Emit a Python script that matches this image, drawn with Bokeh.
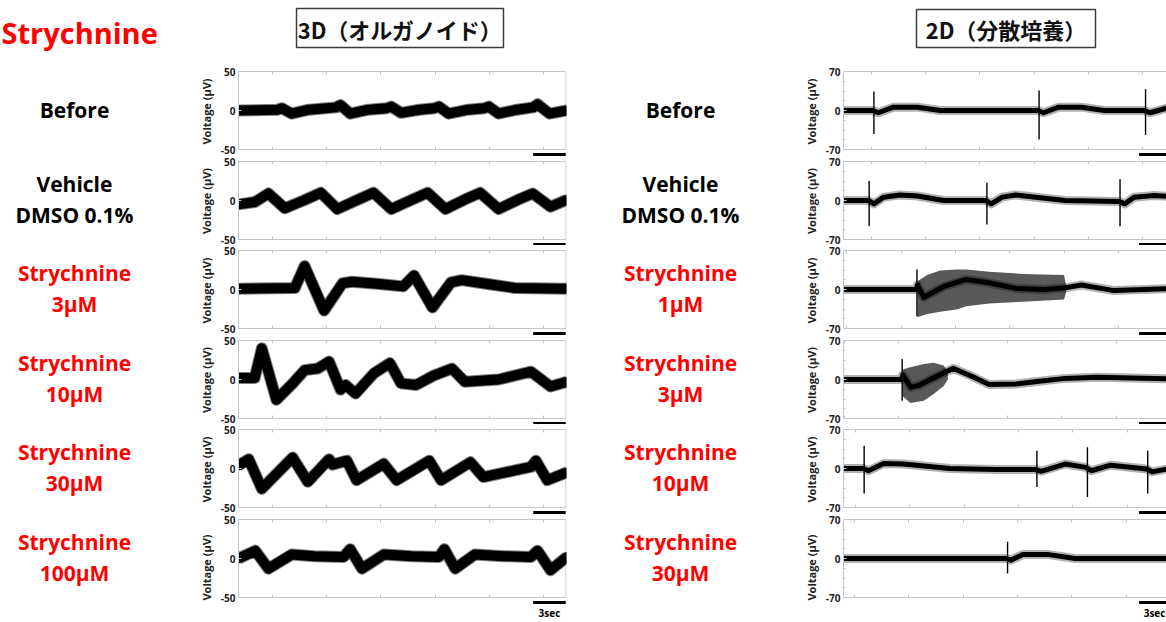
from bokeh.plotting import figure
from bokeh.layouts import column, row
from bokeh.models import Range1d, LinearAxis, FixedTicker
from bokeh.embed import file_html
from bokeh.resources import INLINE
from bokeh.core.properties import value

FONT = "Open Sans"
CJK = "Noto Sans CJK JP"
RED = "#ff0000"
BOX = "#c6c6c6"

# ---------------- data ----------------
title_text = "Strychnine"
header_3d = "3D（オルガノイド）"
header_2d = "2D（分散培養）"

labels_3d = [["Before"], ["Vehicle", "DMSO 0.1%"], ["Strychnine", "3µM"],
             ["Strychnine", "10µM"], ["Strychnine", "30µM"], ["Strychnine", "100µM"]]
labels_2d = [["Before"], ["Vehicle", "DMSO 0.1%"], ["Strychnine", "1µM"],
             ["Strychnine", "3µM"], ["Strychnine", "10µM"], ["Strychnine", "30µM"]]
label_is_red = [False, False, True, True, True, True]

ylim_3d = 50
ylim_2d = 70
y_axis_title = "Voltage (µV)"
scalebar_start = 27.2   # s
scalebar_len = 3.0      # s
scalebar_text = "3sec"
tick_step = 5.0
ticks_first_3d = [3.15, 3.15, 3.15, 3.15, 3.15, 3.15]
ticks_first_2d = [2.55, 2.55, 0.3, 0.1, 1.1, 1.0]
t_end = 30.3

# 3D traces (time s, voltage uV)
t3_before = [0, 3.6, 4.0, 4.9, 6.5, 9.0, 9.4, 10.3, 12.0, 13.7, 14.1, 15.0, 16.7, 18.1, 18.5,
             19.4, 21.2, 22.7, 23.1, 24.0, 25.7, 27.2, 27.6, 28.7, 30.3]
v3_before = [0, 1, 3, -4, 1, 4, 7, -4, 1, 3, 5, -3, 1, 3, 5, -4, 1, 3, 5, -4, 1, 4, 8, -4, 0]

t3_vehicle = [0, 1.5, 2.76, 4.27, 6.0, 7.6, 9.12, 11.0, 12.45, 14.1, 16.0, 17.45, 19.1, 21.0,
              22.3, 24.0, 25.8, 27.15, 28.8, 30.3]
v3_vehicle = [-5, -2, 9, -10, 0, 10, -11, 1, 10, -11, 1, 10, -11, 2, 10, -11, 1, 9, -8, 1]

t3_s3 = [0, 5.2, 6.1, 7.9, 9.6, 10.5, 13.0, 15.2, 16.2, 17.9, 19.6, 20.6, 23.0, 25.5, 30.3]
v3_s3 = [1, 2, 30, -27, 8, 10, 7, 4, 18, -23, 9, 12, 7, 2, 1]

t3_s10 = [0, 1.5, 2.15, 3.5, 5.0, 6.1, 7.3, 8.36, 9.42, 9.88, 10.8, 12.5, 13.97, 15.0, 16.4,
          18.0, 19.7, 20.9, 24.0, 27.0, 28.8, 30.3]
v3_s10 = [2, 2, 40, -26, -5, 12, 14, 23, -13, -7, -18, 8, 21, -5, -7, 5, 14, -3, 0, 10, -9, -3]

t3_s30 = [0, 0.94, 2.15, 5.0, 6.4, 8.36, 8.67, 10.0, 10.9, 13.4, 14.6, 17.6, 18.7, 21.4, 22.6,
          27.0, 27.45, 28.5, 30.3]
v3_s30 = [4, 12, -26, 14, -17, 12, 5, 10, -15, 6, -15, 10, -15, 8, -11, 2, 10, -15, -5]

t3_s100 = [0, 1.55, 2.76, 4.9, 7.0, 9.7, 10.3, 11.4, 13.4, 16.0, 18.5, 19.0, 20.0, 21.8, 24.5,
           27.0, 27.6, 28.8, 30.3]
v3_s100 = [0, 10, -13, 5, 3, 2, 12, -13, 5, 3, 2, 12, -13, 5, 3, 2, 10, -15, 2]

# 2D traces
t2_before = [0, 2.7, 3.2, 4.6, 6.8, 8.9, 17.9, 18.4, 19.8, 21.9, 24.0, 27.7, 28.2, 29.7, 30.3]
v2_before = [0, 0, -4, 6, 6, 0, 0, -4, 6, 6, 0, 0, -4, 4, 5]
spk2_before_t = [2.8, 18.0, 27.8]
spk2_before_hi = [34, 36, 38]
spk2_before_lo = [-42, -52, -44]

t2_vehicle = [0, 2.3, 2.8, 3.7, 5.2, 6.8, 9.2, 13.1, 13.6, 14.6, 15.85, 17.7, 20.4, 25.4, 25.9,
              26.75, 28.6, 30.3]
v2_vehicle = [0, 0, -6, 6, 10, 8, 0, 0, -6, 6, 10, 6, 0, -2, -6, 6, 9, 7]
spk2_vehicle_t = [2.36, 13.2, 25.45]
spk2_vehicle_hi = [35, 32, 38]
spk2_vehicle_lo = [-46, -43, -46]

t2_s1 = [0, 6.7, 6.8, 7.4, 9.2, 11.3, 13.4, 15.85, 18.5, 20.4, 21.9, 24.9, 30.3]
v2_s1 = [0, 0, 8, -14, 5, 18, 12, 2, 0, 3, 8, -2, 2]
spk2_s1_t = [6.76]
spk2_s1_hi = [36]
spk2_s1_lo = [-48]
burst2_s1_t = [6.8, 7.7, 8.9, 10.4, 11.3, 13.4, 16.5, 20.3, 20.5]
burst2_s1_hi = [15, 26, 34, 36, 36, 32, 28, 26, 6]
burst2_s1_lo = [-50, -44, -40, -36, -30, -25, -22, -18, -4]

t2_s3 = [0, 5.35, 5.45, 6.2, 7.0, 8.5, 10.1, 11.9, 13.4, 15.9, 18.0, 20.4, 23.4, 30.3]
v2_s3 = [0, 0, 8, -14, -10, 5, 20, 5, -9, -8, -3, 2, 4, 1]
spk2_s3_t = [5.4]
spk2_s3_hi = [37]
spk2_s3_lo = [-38]
burst2_s3_t = [5.45, 6.15, 7.4, 8.3, 9.2, 9.6]
burst2_s3_hi = [18, 22, 28, 30, 25, 15]
burst2_s3_lo = [-30, -42, -38, -26, -12, 0]

t2_s10 = [0, 1.85, 2.3, 3.7, 5.5, 9.8, 14, 17.7, 18.2, 20.4, 22.3, 22.8, 24.6, 27.9, 28.4, 30.3]
v2_s10 = [0, 0, -4, 9, 8, 0, -2, -2, -5, 8, 2, -4, 6, -1, -6, 1]
spk2_s10_t = [1.9, 17.8, 22.45, 28.0]
spk2_s10_hi = [41, 32, 38, 32]
spk2_s10_lo = [-45, -33, -51, -45]

t2_s30 = [0, 15.0, 15.4, 16.5, 18.9, 21.3, 30.3]
v2_s30 = [0, 0, -3, 7, 7, 0, 0]
spk2_s30_t = [15.1]
spk2_s30_hi = [30]
spk2_s30_lo = [-27]

traces_3d = [(t3_before, v3_before), (t3_vehicle, v3_vehicle), (t3_s3, v3_s3),
             (t3_s10, v3_s10), (t3_s30, v3_s30), (t3_s100, v3_s100)]
traces_2d = [(t2_before, v2_before), (t2_vehicle, v2_vehicle), (t2_s1, v2_s1),
             (t2_s3, v2_s3), (t2_s10, v2_s10), (t2_s30, v2_s30)]
spikes_2d = [(spk2_before_t, spk2_before_hi, spk2_before_lo),
             (spk2_vehicle_t, spk2_vehicle_hi, spk2_vehicle_lo),
             (spk2_s1_t, spk2_s1_hi, spk2_s1_lo),
             (spk2_s3_t, spk2_s3_hi, spk2_s3_lo),
             (spk2_s10_t, spk2_s10_hi, spk2_s10_lo),
             (spk2_s30_t, spk2_s30_hi, spk2_s30_lo)]
bursts_2d = [None, None, (burst2_s1_t, burst2_s1_hi, burst2_s1_lo),
             (burst2_s3_t, burst2_s3_hi, burst2_s3_lo), None, None]

# ---------------- layout ----------------
PAGE_W = 1166
HEADER_H = 66
ROW_H = [90, 89, 90, 89, 90, 106]
BOX_TOP = 5
BOX_H = 78
LEFT_W, P3_W, MID_W, P2_W = 195, 380, 225, 366
P3_BL, P3_BR = 38, 9
P2_BL, P2_BR = 39, 0
PX_PER_S = 11.0


def make_trace(t, v, ylim, h, w, bl, br, tick0, spikes=None, burst=None, last=False,
               core_w=10, halo_w=12, halo_alpha=0.45, box_clip=False, minor=None,
               sb_align="center"):
    frame_w = w - bl - br
    xmax = frame_w / PX_PER_S
    ppu = BOX_H / (2.0 * ylim)
    bottom_px = h - BOX_TOP - BOX_H
    y0 = -ylim - bottom_px / ppu
    y1 = ylim + BOX_TOP / ppu
    p = figure(width=w, height=h, x_range=Range1d(0, xmax), y_range=Range1d(y0, y1),
               output_backend="svg", toolbar_location=None, tools="",
               x_axis_location=None, y_axis_location="left",
               min_border_left=bl, min_border_right=br, min_border_top=0, min_border_bottom=0)
    p.outline_line_color = None
    p.grid.visible = False
    p.background_fill_color = "white"
    p.border_fill_color = "white"

    yax = p.yaxis[0]
    yax.ticker = FixedTicker(ticks=[-ylim, 0, ylim], minor_ticks=minor or [])
    yax.major_label_overrides = {-ylim: "-%d" % ylim, 0: "0", ylim: "%d" % ylim}
    yax.bounds = (-ylim, ylim)
    yax.axis_line_color = BOX
    yax.major_tick_in = 3
    yax.major_tick_out = 0
    yax.major_tick_line_color = BOX
    yax.minor_tick_in = 2
    yax.minor_tick_out = 0
    yax.minor_tick_line_color = BOX
    yax.major_label_text_font = FONT
    yax.major_label_text_font_style = "bold"
    yax.major_label_text_font_size = "10px"
    yax.major_label_text_color = "#222222"
    yax.major_label_standoff = 3
    yax.axis_label = y_axis_title
    yax.axis_label_text_font = FONT
    yax.axis_label_text_font_size = "11px"
    yax.axis_label_text_font_style = "bold"
    yax.axis_label_text_color = "#222222"
    yax.axis_label_standoff = 4

    ticks = []
    k = tick0
    while k < xmax:
        ticks.append(k)
        k += tick_step
    for loc, side in ((-ylim, "below"), (ylim, "above")):
        ax = LinearAxis(fixed_location=loc, ticker=FixedTicker(ticks=ticks),
                        major_tick_in=3, major_tick_out=0, major_tick_line_color=BOX,
                        minor_tick_line_color=None, axis_line_color=None,
                        major_label_text_font_size="0px", major_label_text_color=None)
        p.add_layout(ax, side)

    box_right = t_end if box_clip else xmax - 0.05
    p.quad(left=[0], right=[box_right], bottom=[-ylim], top=[ylim],
           fill_color=None, line_color=BOX, line_width=1)

    if burst is not None:
        bt, bhi, blo = burst
        p.varea(x=bt, y1=blo, y2=bhi, fill_color="black", fill_alpha=0.65)
    p.line(t, v, line_width=halo_w, color="black", alpha=halo_alpha, line_join="round")
    p.line(t, v, line_width=core_w, color="black", line_join="round", line_cap="round")
    if spikes is not None:
        st, shi, slo = spikes
        p.segment(x0=st, y0=slo, x1=st, y1=shi, line_width=1.4, color="black")

    yb = -ylim - 5.0 / ppu
    p.segment(x0=[scalebar_start], x1=[scalebar_start + scalebar_len], y0=[yb], y1=[yb],
              line_width=3, color="black", line_cap="butt")
    if last:
        if sb_align == "center":
            tx = scalebar_start + scalebar_len / 2.0
        else:
            tx = xmax - 0.1
        p.text(x=[tx], y=[yb - 10.0 / ppu], text=[scalebar_text],
               text_font=value(FONT), text_font_size="10px", text_font_style="bold",
               text_align=sb_align, text_baseline="alphabetic", text_color="black")
    return p


def blank_fig(w, h, xr, yr):
    p = figure(width=w, height=h, x_range=Range1d(*xr), y_range=Range1d(*yr),
               output_backend="svg", toolbar_location=None, tools="",
               x_axis_location=None, y_axis_location=None,
               min_border=0, min_border_left=0, min_border_right=0,
               min_border_top=0, min_border_bottom=0)
    p.outline_line_color = None
    p.grid.visible = False
    p.background_fill_color = "white"
    p.border_fill_color = "white"
    return p


# header
header = blank_fig(PAGE_W, HEADER_H, (0, PAGE_W), (HEADER_H, 0))
header.text(x=[1], y=[32], text=[title_text], text_font=value(FONT), text_font_size="29px",
            text_font_style="bold", text_color=RED, text_align="left",
            text_baseline="alphabetic")
header.quad(left=[296, 916], right=[503, 1095], top=[8, 9], bottom=[47, 47],
            fill_color=None, line_color="#3c3c3c", line_width=1.5)
header.text(x=[399.5, 1005.5], y=[28, 28], text=[header_3d, header_2d],
            text_font=value(CJK), text_font_size="22px", text_font_style="bold",
            text_color="#111111", text_align="center", text_baseline="middle")

rows_top = HEADER_H
rows_h = sum(ROW_H)
row_centers = []
acc = rows_top
for hh in ROW_H:
    row_centers.append(acc + BOX_TOP + BOX_H / 2.0)
    acc += hh


def label_fig(w, x_left, x_center, labels):
    p = blank_fig(w, rows_h, (x_left, x_left + w), (rows_top + rows_h, rows_top))
    xs, ys, ts, cs = [], [], [], []
    for i, lines in enumerate(labels):
        col = RED if label_is_red[i] else "black"
        n = len(lines)
        for j, s in enumerate(lines):
            xs.append(x_center)
            ys.append(row_centers[i] - 1 + (j - (n - 1) / 2.0) * 31)
            ts.append(s)
            cs.append(col)
    p.text(x=xs, y=ys, text=ts, text_color=cs, text_font=value(FONT), text_font_size="21px",
           text_font_style="bold", text_align="center", text_baseline="middle")
    return p


left_labels = label_fig(LEFT_W, 0, 74, labels_3d)
mid_labels = label_fig(MID_W, LEFT_W + P3_W, 680, labels_2d)

p3 = []
p2 = []
for i in range(6):
    last = i == 5
    t, v = traces_3d[i]
    p3.append(make_trace(t, v, ylim_3d, ROW_H[i], P3_W, P3_BL, P3_BR, ticks_first_3d[i],
                         last=last, core_w=10, halo_w=12, halo_alpha=0.5))
    t, v = traces_2d[i]
    p2.append(make_trace(t, v, ylim_2d, ROW_H[i], P2_W, P2_BL, P2_BR, ticks_first_2d[i],
                         spikes=spikes_2d[i], burst=bursts_2d[i], last=last,
                         core_w=5, halo_w=9, halo_alpha=0.3, box_clip=True,
                         minor=[-52.5, -35, -17.5, 17.5, 35, 52.5], sb_align="right"))

layout = column(header,
                row(left_labels, column(*p3, spacing=0), mid_labels, column(*p2, spacing=0),
                    spacing=0),
                spacing=0)

open("out.html", "w").write(file_html(layout, INLINE))
